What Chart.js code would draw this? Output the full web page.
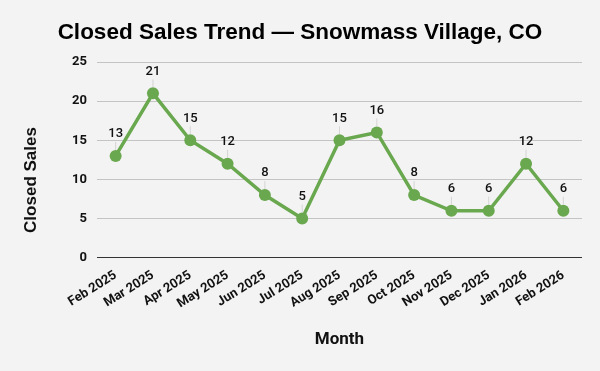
<!DOCTYPE html>
<html>
<head>
<meta charset="utf-8">
<script src="https://cdn.jsdelivr.net/npm/chart.js@4.4.1/dist/chart.umd.min.js"></script>
<style>
  html, body { margin: 0; padding: 0; background: #f3f3f3; }
  #wrap { width: 600px; height: 371px; }
</style>
</head>
<body>
<div id="wrap"><canvas id="salesChart"></canvas></div>
<script>
var months = ["Feb 2025", "Mar 2025", "Apr 2025", "May 2025", "Jun 2025", "Jul 2025", "Aug 2025",
              "Sep 2025", "Oct 2025", "Nov 2025", "Dec 2025", "Jan 2026", "Feb 2026"];
var closedSales = [13, 21, 15, 12, 8, 5, 15, 16, 8, 6, 6, 12, 6];
var yTicks = [0, 5, 10, 15, 20, 25];

// labels above each point, with a thin leader line
var pointLabels = {
    id: "pointLabels",
    afterDatasetsDraw: function(chart){
        var ctx = chart.ctx;
        var meta = chart.getDatasetMeta(0);
        ctx.save();
        meta.data.forEach(function(pt, i){
            ctx.strokeStyle = "rgba(205,205,205,0.8)";
            ctx.lineWidth = 1;
            ctx.beginPath();
            ctx.moveTo(pt.x, pt.y - 6);
            ctx.lineTo(pt.x, pt.y - 14);
            ctx.stroke();
            ctx.fillStyle = "#111";
            ctx.font = "500 13px Roboto";
            ctx.textAlign = "center";
            ctx.textBaseline = "middle";
            ctx.fillText(closedSales[i], pt.x, pt.y - 22);
        });
        ctx.restore();
    }
};

// y axis title, drawn by hand so it sits a bit lower like the original
var yTitle = {
    id: "yTitle",
    afterDraw: function(chart){
        var ctx = chart.ctx;
        ctx.save();
        ctx.translate(31, 180);
        ctx.rotate(-Math.PI / 2);
        ctx.fillStyle = "#111";
        ctx.font = "bold 17px 'Liberation Sans'";
        ctx.textAlign = "center";
        ctx.textBaseline = "middle";
        ctx.fillText("Closed Sales", 0, 0);
        ctx.restore();
    }
};

var ctxL = document.getElementById("salesChart").getContext("2d");
var myLineChart = new Chart(ctxL, {
    type: "line",
    data: {
        labels: months,
        datasets: [{
            label: "Closed Sales",
            data: closedSales,
            borderColor: "#6aa84f",
            backgroundColor: "#6aa84f",
            borderWidth: 3.5,
            pointRadius: 6,
            pointBackgroundColor: "#6aa84f",
            pointBorderColor: "#6aa84f",
            pointBorderWidth: 0,
            tension: 0
        }]
    },
    options: {
        responsive: true,
        maintainAspectRatio: false,
        animation: false,
        layout: { padding: { left: 18, right: 18, top: 4, bottom: 17 } },
        plugins: {
            legend: { display: false },
            tooltip: { enabled: false },
            title: {
                display: true,
                text: "Closed Sales Trend \u2014 Snowmass Village, CO",
                color: "#000",
                font: { family: "Liberation Sans", size: 22.5, weight: "bold" },
                padding: { top: 15, bottom: 16 }
            }
        },
        scales: {
            x: {
                offset: true,
                grid: { display: false },
                border: { display: false },
                ticks: {
                    autoSkip: false,
                    maxRotation: 32,
                    minRotation: 32,
                    color: "#111",
                    font: { family: "Roboto", size: 13, weight: "bold" },
                    padding: 2
                },
                title: {
                    display: true,
                    text: "Month",
                    color: "#111",
                    font: { family: "Roboto", size: 17, weight: "bold" },
                    padding: { top: 16 }
                }
            },
            y: {
                min: 0,
                max: 25,
                afterBuildTicks: function(axis){
                    axis.ticks = yTicks.map(function(v){ return { value: v }; });
                },
                afterFit: function(axis){
                    axis.width = 79;
                },
                grid: {
                    color: function(c){ return c.tick && c.tick.value === 0 ? "#333" : "#c4c4c4"; },
                    lineWidth: 1,
                    drawTicks: false
                },
                border: { display: false },
                ticks: {
                    color: "#111",
                    font: { family: "Roboto", size: 13, weight: "bold" },
                    padding: 10
                }
            }
        }
    },
    plugins: [pointLabels, yTitle]
});
</script>
</body>
</html>
